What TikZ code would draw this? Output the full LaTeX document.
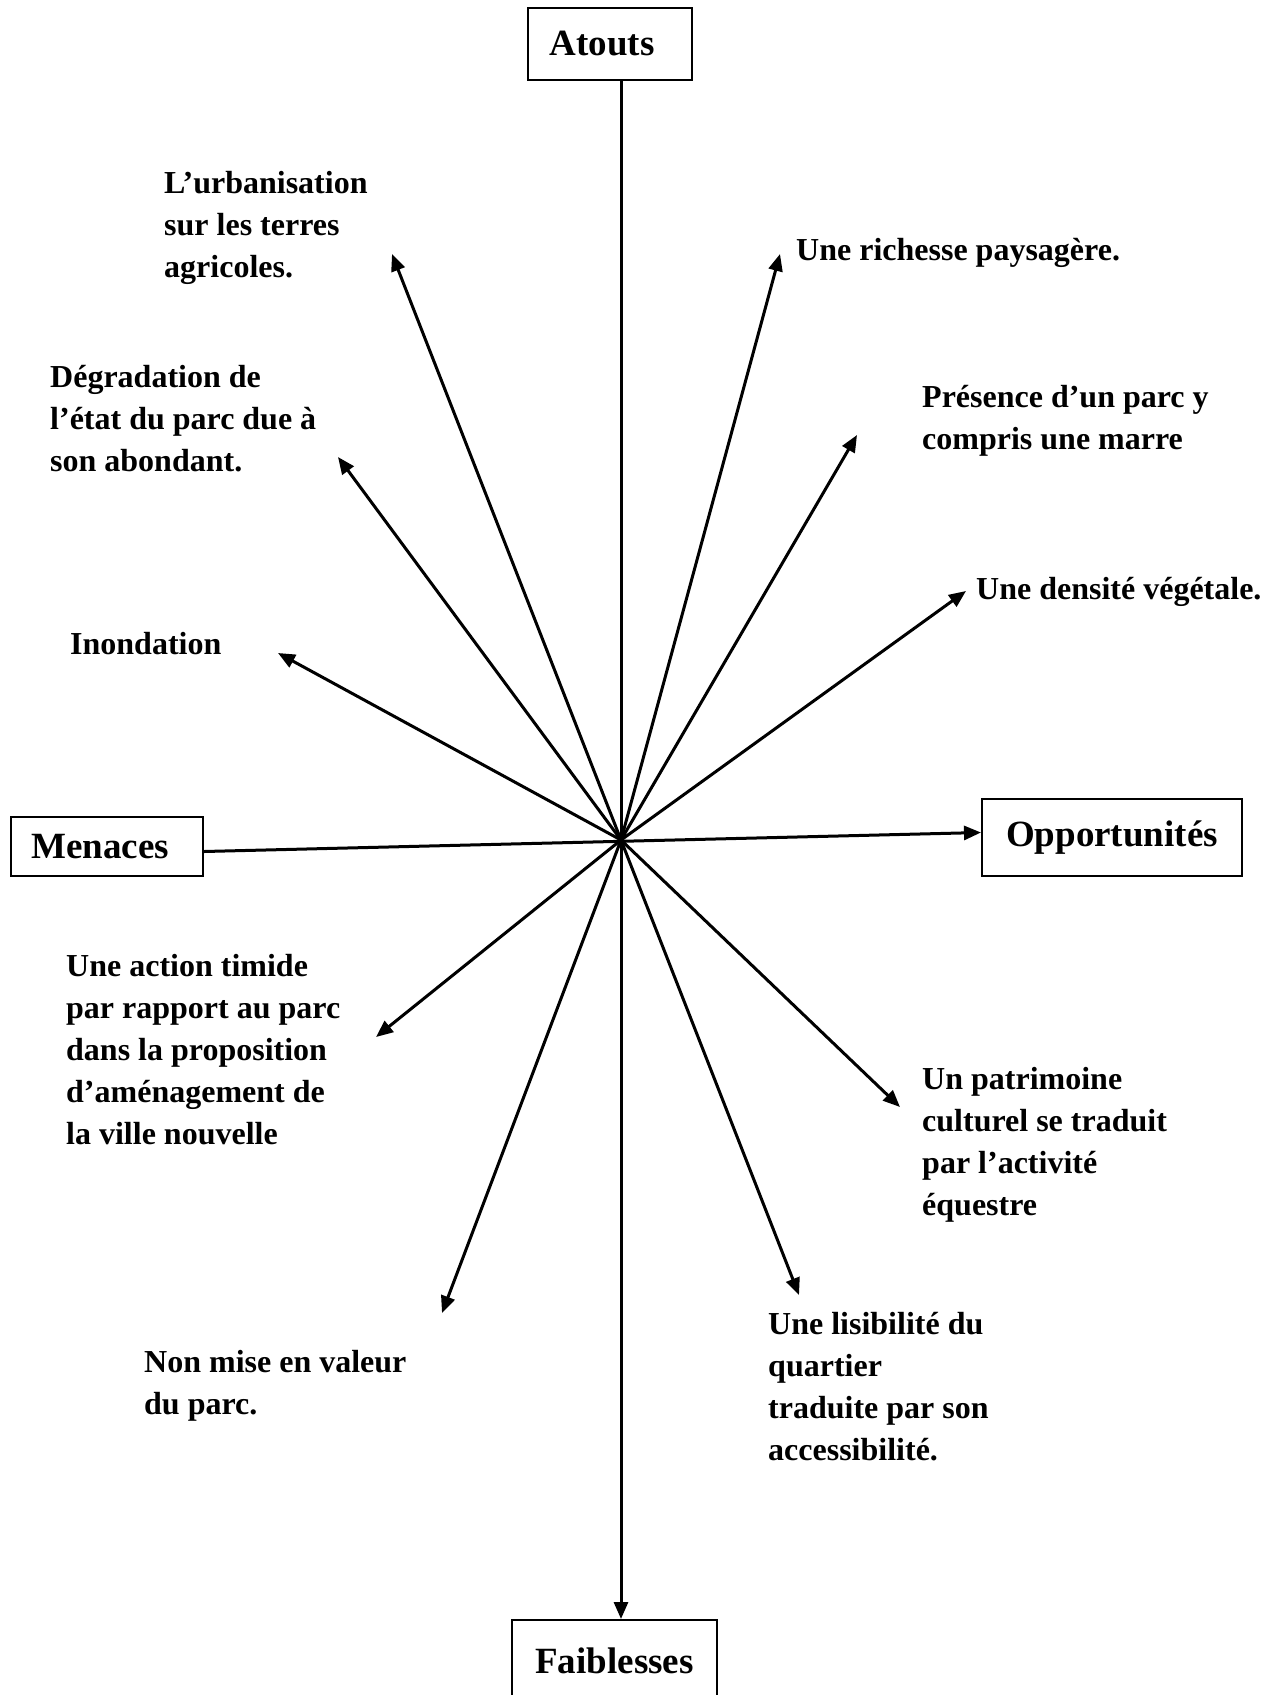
\documentclass[tikz,border=0pt]{standalone}
\usepackage{fontspec}
\setmainfont{Liberation Serif}
\usetikzlibrary{arrows.meta}
\tikzset{
  box/.style={draw, line width=2pt, inner sep=0pt, font=\fontsize{37}{44}\selectfont\bfseries},
  lbl/.style={anchor=base west, align=left, inner sep=0pt, font=\fontsize{32}{42}\selectfont\bfseries},
  ray/.style={line width=3pt, -{Triangle[length=17pt,width=14pt]}},
}
\begin{document}
\begin{tikzpicture}[x=1pt,y=-1pt]
\useasboundingbox[fill=white] (0,0) rectangle (1274,1695);
% boxes
\node[box, minimum width=164pt, minimum height=72pt] (at) at (610,44) {Atouts\hspace*{16pt}};
\node[box, minimum width=192pt, minimum height=59pt] (me) at (107,846.5) {Menaces\hspace*{14pt}};
\node[box, minimum width=260pt, minimum height=77pt] (op) at (1112,837.5) {Opportunités};
\node[box, minimum width=205pt, minimum height=82pt] (fa) at (614.5,1661) {Faiblesses};
\coordinate (c) at (621,840);
% axes
\draw[ray] (c |- at.south) -- (c |- fa.north);
\draw[ray] ([yshift=-5pt]me.east) -- ([yshift=5pt]op.west);
% arrow tips
\coordinate (t1) at (392,254);
\coordinate (t2) at (338,457);
\coordinate (t3) at (278,653);
\coordinate (t4) at (780,254);
\coordinate (t5) at (857,435);
\coordinate (t6) at (966,591);
\coordinate (t7) at (376,1037);
\coordinate (t8) at (442,1313);
\coordinate (t9) at (900,1107);
\coordinate (t10) at (799,1295);
\foreach \t in {t1,t2,t3,t4,t5,t6,t7,t8,t9,t10} \draw[ray] (c) -- (\t);
% labels (anchor = baseline of last line)
\node[lbl] (l1) at (164,277) {L’urbanisation\\sur les terres\\agricoles.};
\node[lbl] (l2) at (50,471) {Dégradation de\\l’état du parc due à\\son abondant.};
\node[lbl] (l3) at (70,654) {Inondation};
\node[lbl] (l4) at (796,260) {Une richesse paysagère.};
\node[lbl] (l5) at (922,449) {Présence d’un parc y\\compris une marre};
\node[lbl] (l6) at (976,599) {Une densité végétale.};
\node[lbl] (l7) at (66,1144) {Une action timide\\par rapport au parc\\dans la proposition\\d’aménagement de\\la ville nouvelle};
\node[lbl] (l8) at (144,1414) {Non mise en valeur\\du parc.};
\node[lbl] (l9) at (922,1215) {Un patrimoine\\culturel se traduit\\par l’activité\\équestre};
\node[lbl] (l10) at (768,1460) {Une lisibilité du\\quartier\\traduite par son\\accessibilité.};
\end{tikzpicture}
\end{document}
